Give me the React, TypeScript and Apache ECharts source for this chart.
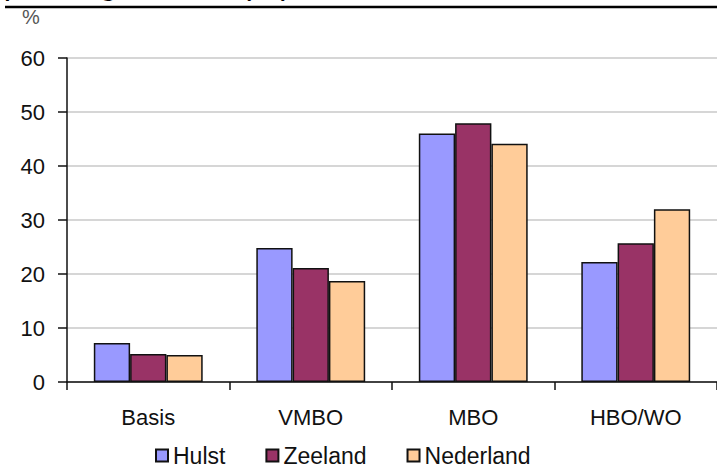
import React, { useEffect, useRef } from "react";
import * as echarts from "echarts";

const categories = ["Basis", "VMBO", "MBO", "HBO/WO"];
const seriesNames = ["Hulst", "Zeeland", "Nederland"];
const hulst = [7.2, 24.8, 46.0, 22.2];
const zeeland = [5.2, 21.1, 47.9, 25.7];
const nederland = [5.0, 18.7, 44.1, 32.0];
const colors = ["#9999ff", "#993366", "#ffcc99"];
const yTicks = { min: 0, max: 60, interval: 10 };

const FONT = "'Liberation Sans', Arial, sans-serif";

export default function App() {
  const ref = useRef<HTMLDivElement>(null);
  useEffect(() => {
    if (!ref.current) return;
    const chart = echarts.init(ref.current, undefined, { renderer: "svg" });
    const data = [hulst, zeeland, nederland];
    chart.setOption({
      animation: false,
      backgroundColor: "#ffffff",
      textStyle: { fontFamily: FONT },
      grid: { left: 67, right: -4, top: 58, bottom: 86, containLabel: false },
      legend: {
        left: 150,
        top: 439,
        itemWidth: 12,
        itemHeight: 12,
        itemGap: 40,
        icon: "rect",
        textStyle: { fontSize: 23, color: "#111", fontFamily: FONT },
        data: seriesNames,
      },
      xAxis: {
        type: "category",
        data: categories,
        boundaryGap: true,
        axisLine: { lineStyle: { color: "#111", width: 1.5 } },
        axisTick: { show: true, interval: 0, length: 8, lineStyle: { color: "#111", width: 1.5 } },
        axisLabel: { fontSize: 22, color: "#111", margin: 24, fontFamily: FONT, interval: 0 },
        splitLine: { show: false },
      },
      yAxis: {
        type: "value",
        min: yTicks.min,
        max: yTicks.max,
        interval: yTicks.interval,
        axisLine: { show: true, lineStyle: { color: "#111", width: 1.5 } },
        axisTick: { show: true, length: 9, lineStyle: { color: "#111", width: 1.5 } },
        axisLabel: { fontSize: 22, color: "#111", margin: 22, fontFamily: FONT },
        splitLine: { show: true, lineStyle: { color: "#c8c8c8", width: 1.5 } },
      },
      series: seriesNames.map((name, i) => ({
        name,
        type: "bar",
        data: data[i],
        barGap: "0%",
        barCategoryGap: "33%",
        itemStyle: { color: colors[i], borderColor: "#111", borderWidth: 1.5 },
      })),
      graphic: [
        {
          type: "text",
          left: -22,
          y: -18,
          style: {
            text: "Opleidingsniveau (%)",
            fontSize: 33,
            fontFamily: FONT,
            fill: "#000",
            verticalAlign: "middle",
          },
        },
        {
          type: "line",
          shape: { x1: 5, y1: 7, x2: 717, y2: 7 },
          style: { stroke: "#000", lineWidth: 2.5 },
        },
        {
          type: "text",
          x: 22,
          y: 17,
          style: {
            text: "%",
            fontSize: 20,
            fontFamily: FONT,
            fill: "#555",
            verticalAlign: "middle",
          },
        },
      ],
    });
    return () => chart.dispose();
  }, []);
  return (
    <div
      ref={ref}
      style={{ position: "fixed", left: 0, top: 0, width: 717, height: 468 }}
    />
  );
}
